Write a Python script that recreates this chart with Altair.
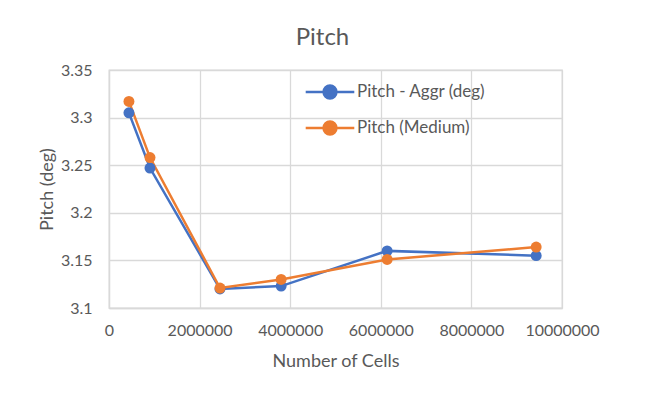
import altair as alt
import pandas as pd

cells = [440000, 905000, 2450000, 3800000, 6140000, 9430000]
aggr = [3.305, 3.247, 3.120, 3.123, 3.160, 3.155]
medium = [3.317, 3.258, 3.121, 3.130, 3.151, 3.164]
series_names = ["Pitch - Aggr (deg)", "Pitch (Medium)"]
colors = ["#4472C4", "#ED7D31"]

rows = []
for name, vals in zip(series_names, [aggr, medium]):
    for c, v in zip(cells, vals):
        rows.append({"cells": c, "pitch": v, "series": name})
df = pd.DataFrame(rows)

FONT = "Lato"
GRAY = "#595959"
GRID = "#D9D9D9"

x = alt.X("cells:Q", title="Number of Cells",
          scale=alt.Scale(domain=[0, 10000000], nice=False),
          axis=alt.Axis(values=[0, 2000000, 4000000, 6000000, 8000000, 10000000],
                        format="d", labelPadding=14, titlePadding=14, labelOverlap=False,
                        labelFlush=False))
y = alt.Y("pitch:Q", title="Pitch (deg)",
          scale=alt.Scale(domain=[3.1, 3.35], nice=False, zero=False),
          axis=alt.Axis(values=[3.1, 3.15, 3.2, 3.25, 3.3, 3.35], format="~g",
                        labelPadding=17, titlePadding=4, labelFlush=False))
color = alt.Color("series:N", sort=series_names,
                  scale=alt.Scale(domain=series_names, range=colors),
                  legend=alt.Legend(title=None, orient="none", legendX=205, legendY=6,
                                    symbolType="M-1.7,0L1.7,0M0.45,0A0.45,0.45,0,1,1,-0.45,0A0.45,0.45,0,1,1,0.45,0",
                                    symbolSize=817, symbolStrokeWidth=2.5,
                                    rowPadding=8, labelFontSize=17, labelColor=GRAY,
                                    labelFont=FONT, labelOffset=11))

chart = alt.Chart(df).mark_line(strokeWidth=2.5, point=alt.OverlayMarkDef(size=120, filled=True, opacity=1)).encode(
    x=x, y=y, color=color, order=alt.Order("cells:Q")
).properties(
    width=453, height=238,
    title=alt.Title("Pitch", fontSize=24, font=FONT, color=GRAY, fontWeight="normal", dx=-13, offset=12),
    padding={"left": 101, "top": 62, "right": 75, "bottom": 86},
    autosize=alt.AutoSizeParams(type="none"),
    background="white"
).configure_view(stroke=GRID, strokeWidth=1.3).configure_axis(
    gridColor=GRID, gridWidth=1.3, domainColor=GRID, domainWidth=1.3, ticks=False,
    labelFont=FONT, titleFont=FONT, labelFontSize=16, titleFontSize=18,
    labelColor=GRAY, titleColor=GRAY, titleFontWeight="normal"
)

chart.save("out.html", embed_options={"renderer": "svg", "actions": False})
